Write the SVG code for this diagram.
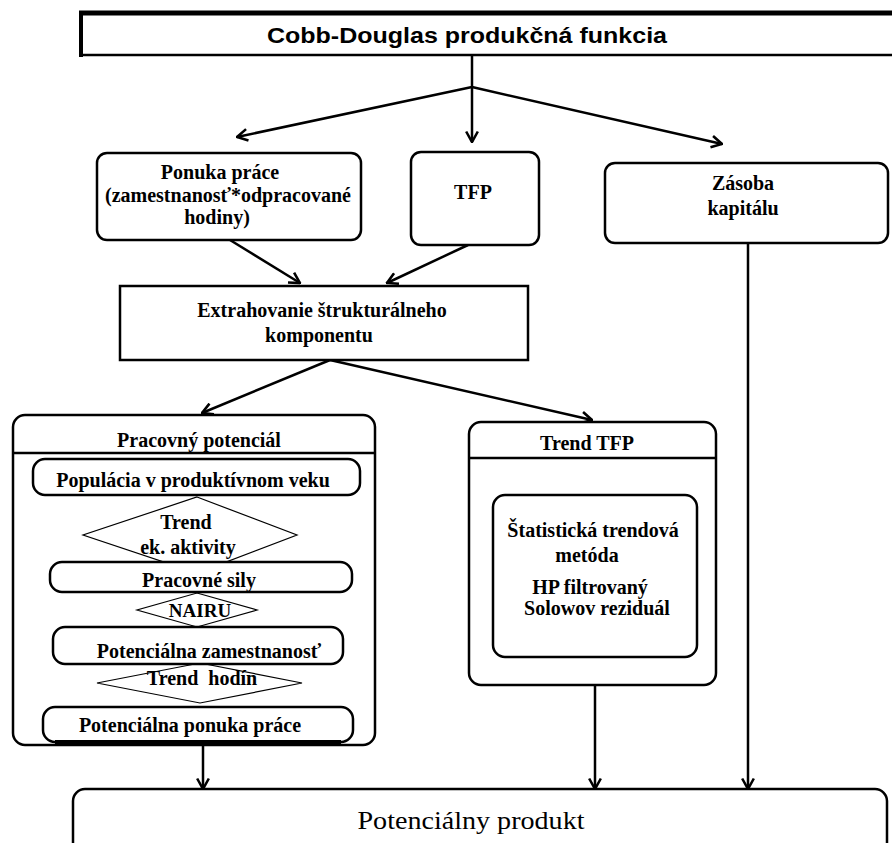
<svg xmlns="http://www.w3.org/2000/svg" width="892" height="843" viewBox="0 0 892 843">
<defs>
<marker id="arr" markerUnits="userSpaceOnUse" markerWidth="14" markerHeight="14" viewBox="-1 -1 12 12" refX="10" refY="5" orient="auto">
<path d="M1,0 L10,5 L1,10" fill="none" stroke="#000" stroke-width="2.2"/>
</marker>
<style>
.box{fill:#fff;stroke:#000;stroke-width:2.5}
.dia{fill:#fff;stroke:#000;stroke-width:1.2}
.t{font-family:"Liberation Serif","Times New Roman",serif;font-weight:bold;font-size:20px;text-anchor:middle;fill:#000}
.big{font-family:"Liberation Serif","Times New Roman",serif;font-weight:normal;font-size:26px;text-anchor:middle;fill:#000}
.conn path{fill:none;stroke:#000;stroke-width:2.5}
.conn .a{marker-end:url(#arr)}
</style>
</defs>
<rect width="892" height="843" fill="#fff"/>

<g id="connectors" class="conn">
<path class="a" d="M472,55 L472,142"/>
<path class="a" d="M472,87 L237,137"/>
<path class="a" d="M472,87 L722,144"/>
<path class="a" d="M230,240 L300,283"/>
<path class="a" d="M468,245 L387,283"/>
<path class="a" d="M330,360 L202,413"/>
<path class="a" d="M330,360 L592,420"/>
<path class="a" d="M203,745 L203,789"/>
<path class="a" d="M595,685 L595,789"/>
<path class="a" d="M748,243 L748,789"/>
</g>

<g id="cobb-douglas">
<rect x="81" y="13" width="820" height="42" fill="#fff" stroke="#000" stroke-width="2.5"/>
<path d="M79,13 L892,13" stroke="#000" stroke-width="5"/>
<path d="M81,11 L81,57" stroke="#000" stroke-width="4"/>
<text x="467" y="43" font-family="'Liberation Sans',Arial,sans-serif" font-weight="bold" font-size="22" text-anchor="middle" textLength="400" lengthAdjust="spacingAndGlyphs">Cobb-Douglas produkčná funkcia</text>
</g>

<g id="ponuka-prace">
<rect class="box" x="97" y="153" width="264" height="87" rx="10"/>
<text class="t" x="220" y="179">Ponuka práce</text>
<text class="t" x="228" y="202">(zamestnanosť*odpracované</text>
<text class="t" x="217" y="224">hodiny)</text>
</g>

<g id="tfp">
<rect class="box" x="411" y="152" width="128" height="93" rx="10"/>
<text class="t" x="473" y="199">TFP</text>
</g>

<g id="zasoba-kapitalu">
<rect class="box" x="605" y="163" width="283" height="80" rx="10"/>
<text class="t" x="743" y="190">Zásoba</text>
<text class="t" x="743" y="215">kapitálu</text>
</g>

<g id="extrahovanie">
<rect class="box" x="120" y="286" width="408" height="74"/>
<text class="t" x="322" y="317">Extrahovanie štrukturálneho</text>
<text class="t" x="319" y="342">komponentu</text>
</g>

<g id="pracovny-potencial">
<rect class="box" x="13" y="415" width="362" height="330" rx="12"/>
<path d="M13,453 L375,453" stroke="#000" stroke-width="2.5"/>
<text class="t" x="199" y="447">Pracovný potenciál</text>
</g>

<g id="trend-ek-aktivity">
<polygon class="dia" points="197,497 297,535 197,573 83,535"/>
<text class="t" x="186" y="529">Trend</text>
<text class="t" x="188" y="554">ek. aktivity</text>
</g>

<g id="nairu">
<polygon class="dia" points="197,593 257,610 197,627 137,610"/>
<text class="t" x="200" y="617" style="font-size:19px">NAIRU</text>
</g>

<g id="trend-hodin">
<polygon class="dia" points="200,663 302,683 200,703 97,683"/>
<text class="t" x="202" y="685" style="white-space:pre">Trend  hodín</text>
</g>

<g id="populacia">
<rect class="box" x="33" y="459" width="327" height="36" rx="12"/>
<text class="t" x="193" y="487">Populácia v produktívnom veku</text>
</g>

<g id="pracovne-sily">
<rect class="box" x="50" y="562" width="302" height="30" rx="12"/>
<text class="t" x="199" y="587">Pracovné sily</text>
</g>

<g id="potencialna-zamestnanost">
<rect class="box" x="53" y="627" width="290" height="37" rx="12"/>
<text class="t" x="209" y="658">Potenciálna zamestnanosť</text>
</g>

<g id="potencialna-ponuka-prace">
<rect class="box" x="43" y="707" width="310" height="35" rx="12"/>
<path d="M55,742 L341,742" stroke="#000" stroke-width="4"/>
<text class="t" x="190" y="732">Potenciálna ponuka práce</text>
</g>

<g id="trend-tfp">
<rect class="box" x="469" y="422" width="247" height="263" rx="12"/>
<path d="M469,458 L716,458" stroke="#000" stroke-width="2.5"/>
<text class="t" x="587" y="450">Trend TFP</text>
</g>

<g id="statisticka-metoda">
<rect class="box" x="493" y="495" width="204" height="162" rx="12"/>
<text class="t" x="593" y="537">Štatistická trendová</text>
<text class="t" x="587" y="562">metóda</text>
<text class="t" x="590" y="594">HP filtrovaný</text>
<text class="t" x="597" y="615">Solowov reziduál</text>
</g>

<g id="potencialny-produkt">
<rect class="box" x="73" y="789" width="814" height="70" rx="12"/>
<text class="big" x="471" y="829" textLength="227" lengthAdjust="spacingAndGlyphs">Potenciálny produkt</text>
</g>
</svg>
